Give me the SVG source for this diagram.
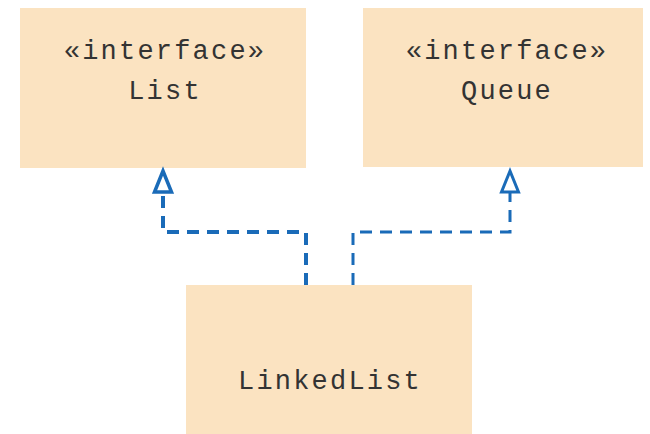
<svg xmlns="http://www.w3.org/2000/svg" width="650" height="434" viewBox="0 0 650 434">
<defs>
<style>
.box{fill:#fbe3c1;}
.t{font-family:"Liberation Mono","DejaVu Sans Mono",monospace;font-size:27px;letter-spacing:2.2px;fill:#333;text-anchor:middle;}
.c{fill:none;stroke:#1a6bb8;stroke-dasharray:12 8;}
.ah{fill:#fff;stroke:#1a6bb8;stroke-linejoin:miter;}
</style>
</defs>
<rect width="650" height="434" fill="#fff"/>
<g id="list">
<rect class="box" x="20" y="8" width="286" height="160"/>
<text class="t" x="165" y="59">«interface»</text>
<text class="t" x="165" y="99">List</text>
</g>
<g id="queue">
<rect class="box" x="363" y="8" width="280" height="159"/>
<text class="t" x="507" y="59">«interface»</text>
<text class="t" x="507" y="99">Queue</text>
</g>
<g id="linkedlist">
<rect class="box" x="186" y="285" width="286" height="149"/>
<text class="t" x="330" y="389">LinkedList</text>
</g>
<g id="connectors">
<path class="c" d="M306,285 V232 H163 V193" stroke-width="4"/>
<polygon class="ah" points="163,171 154.5,192 171.5,192" stroke-width="3.5"/>
<path class="c" d="M353,285 V232 H510 V193" stroke-width="3"/>
<polygon class="ah" points="510,171 501.5,192 518.5,192" stroke-width="3"/>
</g>
</svg>
